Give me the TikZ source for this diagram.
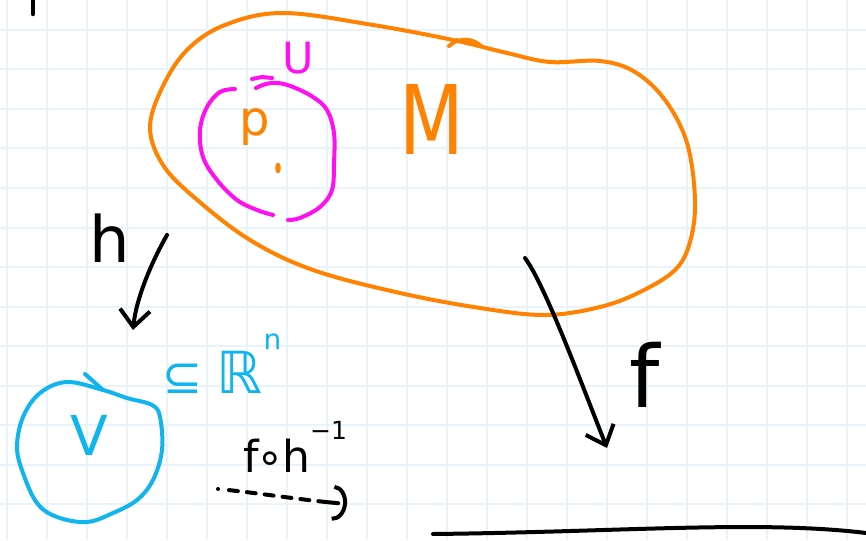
\documentclass[tikz,border=0pt]{standalone}
\usepackage{fontspec}
\setmainfont{DejaVu Sans}
\usepackage{graphicx}
\usepackage{tikz}
\usetikzlibrary{arrows.meta}
\definecolor{gridc}{HTML}{EAF2FC}
\definecolor{orng}{HTML}{FF8200}
\definecolor{mgnt}{HTML}{FF10F0}
\definecolor{cyn}{HTML}{10B4EE}
\newcommand\hsz[1]{\fontsize{#1}{#1}\selectfont}
\tikzset{
  pen/.style={line width=4pt,line cap=round,line join=round},
  ar/.style={pen,-{Straight Barb[length=17pt,width=30pt,line width=4pt]}},
  lbl/.style={anchor=base,inner sep=0pt}
}
\begin{document}
\begin{tikzpicture}[x=1pt,y=-1pt]
\useasboundingbox (0,0) rectangle (866,540);
\fill[white] (0,0) rectangle (866,540);
% paper grid
\foreach \gx in {7,47,...,847} \draw[gridc,line width=2pt] (\gx,0)--(\gx,540);
\foreach \gy in {30,69.5,...,504} \draw[gridc,line width=2pt] (0,\gy)--(866,\gy);
% stray mark
\draw[pen,line width=4.5pt] (33,-3)--(33,14);
% manifold M
\draw[orng,pen] plot[smooth cycle,tension=0.6] coordinates {(150,128) (162,88) (187,50) (225,25) (283,13) (373,25) (453,40) (507,53) (550,62) (600,61) (635,72) (665,100) (687,143) (695,200) (690,242) (675,270) (640,292) (600,307) (545,315) (480,308) (400,293) (313,270) (250,240) (195,198) (163,165)};
\draw[orng,pen] (449,46)--(457,40);
\fill[orng] (452,41) .. controls (465,35) and (475,38) .. (483,45) .. controls (470,44) and (462,43) .. (452,43) -- cycle;
% neighbourhood U
\draw[mgnt,pen] plot[smooth,tension=0.6] coordinates {(235,89) (220,92) (207,107) (200,130) (203,157) (217,180) (237,200) (257,210) (273,215)};
\draw[mgnt,pen] plot[smooth,tension=0.6] coordinates {(288,220) (300,218) (320,207) (332,190) (334,163) (334,133) (327,110) (313,97) (293,87) (278,83) (266,84) (256,88)};
\draw[mgnt,pen] (252,79)--(262,77)--(272,78);
\fill[orng] (278,168) ellipse (2.8 and 5.5);
% chart image V
\draw[cyn,pen] plot[smooth cycle,tension=0.6] coordinates {(103,390) (127,398) (152,405) (160,417) (162,450) (153,480) (137,500) (113,513) (87,522) (57,517) (37,503) (23,473) (17,447) (23,417) (40,393) (67,382)};
\draw[cyn,pen] (85,374)--(103,390);
% labels
\node[lbl,orng,font=\hsz{96}] (lblM) at (432,155) {\scalebox{0.78}[1]{M}};
\node[lbl,mgnt,font=\hsz{43}] (lblU) at (298,74) {U};
\node[lbl,orng,font=\hsz{48}] (lblp) at (255,136) {p};
\node[lbl,cyn,font=\hsz{55}] (lblV) at (89,455) {V};
\node[lbl,font=\hsz{64}] (lblh) at (110,262) {h};
\node[lbl,font=\hsz{86}] (lblf) at (645,407) {f};
\node[lbl,anchor=base west,font=\hsz{44}] (lblfh) at (243,472) {f\kern-2pt∘\kern-2pt h\kern0pt\raisebox{33pt}{\hsz{25}−1}};
\node[lbl,cyn,font=\hsz{48}] (lblsub) at (183,393) {⊆};
\node[lbl,cyn,anchor=base west,font=\hsz{58}] (lblR) at (216,393) {ℝ};
\node[lbl,cyn,anchor=base west,font=\hsz{28}] (lblRn) at (lblR.base east) [yshift=44pt,xshift=1pt] {n};
% maps
\coordinate (hS) at (167,235);
\coordinate (hE) at (133,330);
\coordinate (fS) at (525,258);
\coordinate (fE) at (607,448);
\coordinate (dS) at (218,489);
\coordinate (dE) at (347,504);
\coordinate (tL) at (433,534);
\coordinate (tR) at (866,533);
\draw[ar] (hS) .. controls (150,265) and (136,300) .. (hE);
\draw[ar] (fS) .. controls (545,285) and (580,380) .. (fE);
\draw[pen,dash pattern=on 0pt off 11pt on 9pt off 9pt on 9pt off 9pt on 9pt off 9pt on 9pt off 9pt on 9pt off 9pt on 9pt,-{Arc Barb[length=14pt,width=36pt,line width=4pt]}] (dS) .. controls (260,493) and (300,500) .. (dE);
% target
\draw[pen] (tL) .. controls (620,532) and (760,520) .. (tR);
\end{tikzpicture}
\end{document}
